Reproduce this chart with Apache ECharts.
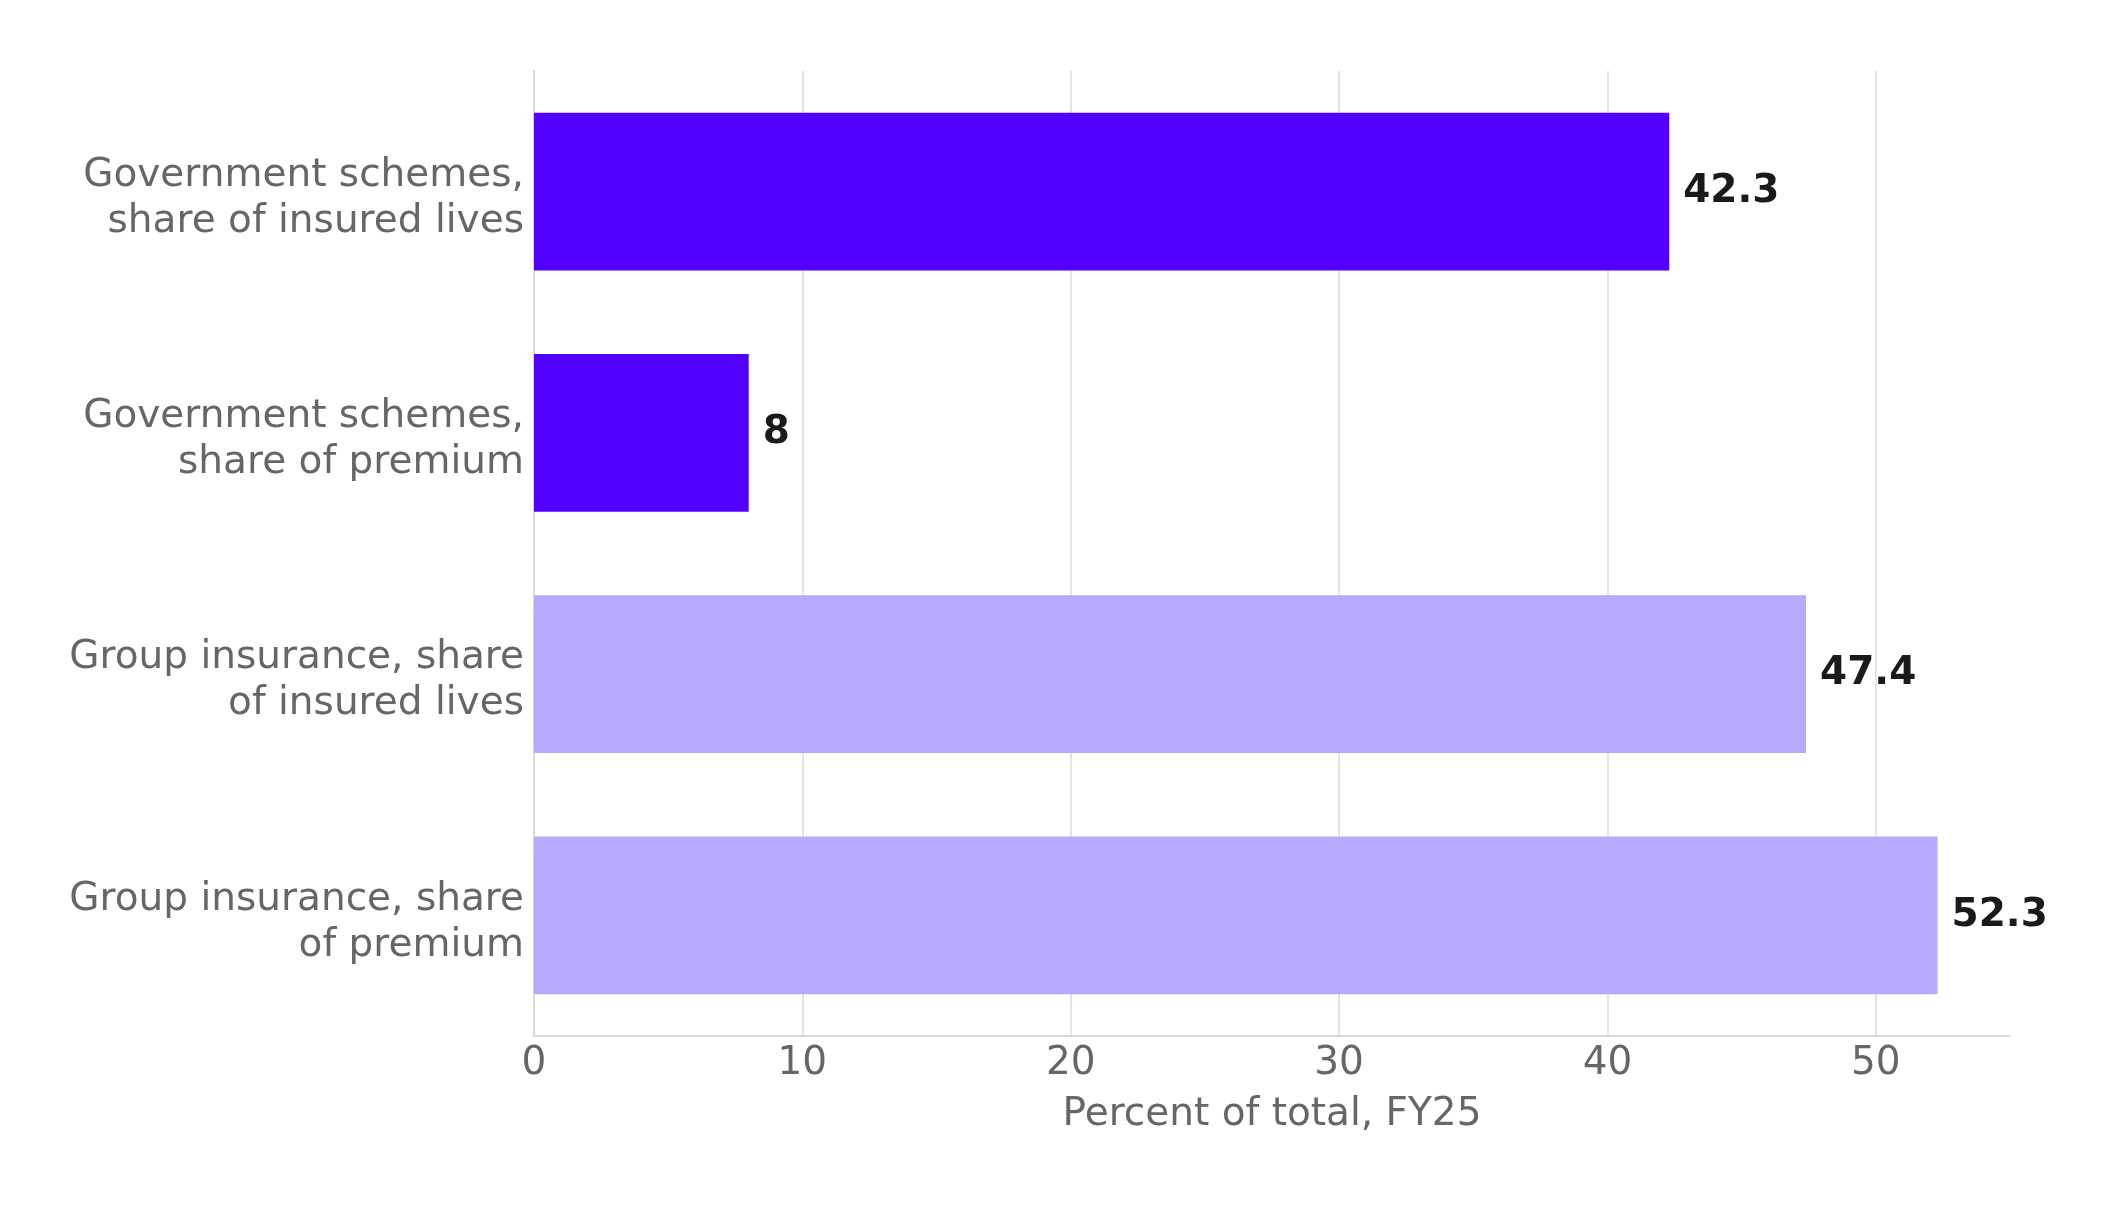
<!DOCTYPE html>
<html>
<head>
<meta charset="utf-8">
<script src="https://cdn.jsdelivr.net/npm/echarts@6/dist/echarts.min.js"></script>
<style>
html,body{margin:0;padding:0;background:#fff;}
#chart{width:2119px;height:1206px;}
</style>
</head>
<body>
<div id="chart"></div>
<script>
const categories = [
  'Government schemes,\nshare of insured lives',
  'Government schemes,\nshare of premium',
  'Group insurance, share\nof insured lives',
  'Group insurance, share\nof premium'
];
const values = [42.3, 8, 47.4, 52.3];
const segments = ['Government', 'Government', 'Group', 'Group'];
const xTicks = [0, 10, 20, 30, 40, 50];
const xAxisTitle = 'Percent of total, FY25';

const segmentColors = { Government: '#5200FF', Group: '#B8A9FF' };
const FONT = 'DejaVu Sans';
const GRID = '#e4e4e0';

const chart = echarts.init(document.getElementById('chart'), null, { renderer: 'canvas' });
chart.setOption({
  backgroundColor: '#ffffff',
  animation: false,
  grid: { left: 534, right: 109, top: 71, bottom: 170, containLabel: false },
  xAxis: {
    type: 'value',
    min: 0,
    max: 55,
    interval: 10,
    name: xAxisTitle,
    nameLocation: 'middle',
    nameGap: 59,
    nameTextStyle: { fontFamily: FONT, fontSize: 39, color: '#666666' },
    axisLine: { show: true, lineStyle: { color: '#d9d9d4', width: 2 } },
    axisTick: { show: false },
    splitLine: {
      show: true,
      lineStyle: { color: [GRID, GRID, GRID, GRID, GRID, GRID, 'rgba(0,0,0,0)'], width: 2 }
    },
    axisLabel: {
      fontFamily: FONT, fontSize: 39, color: '#666666', margin: 8,
      formatter: v => (xTicks.indexOf(v) >= 0 ? String(v) : '')
    }
  },
  yAxis: {
    type: 'category',
    data: categories,
    inverse: true,
    axisLine: { show: true, lineStyle: { color: '#d9d9d4', width: 2 } },
    axisTick: { show: false },
    splitLine: { show: false },
    axisLabel: {
      margin: 10,
      align: 'right',
      formatter: v => '{s| }\n' + v.split('\n').map(t => '{a|' + t + '}').join('\n'),
      rich: {
        s: { fontSize: 2, lineHeight: 14 },
        a: { fontFamily: FONT, fontSize: 39, color: '#666666', lineHeight: 46, align: 'right' }
      }
    }
  },
  series: [{
    type: 'bar',
    data: values,
    barCategoryGap: '34.6%',
    itemStyle: {
      color: p => segmentColors[segments[p.dataIndex]]
    },
    label: {
      show: true,
      position: 'right',
      distance: 14,
      fontFamily: FONT,
      fontSize: 39,
      fontWeight: 'bold',
      color: '#1a1a1a',
      formatter: p => String(p.value)
    }
  }]
});
</script>
</body>
</html>
